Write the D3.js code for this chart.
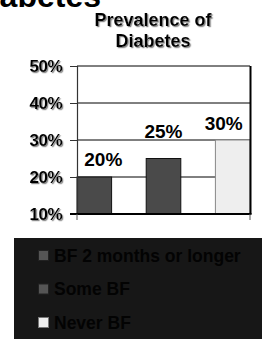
<!DOCTYPE html>
<html>
<head>
<meta charset="utf-8">
<script src="https://cdn.jsdelivr.net/npm/d3@7"></script>
<style>
  body { margin: 0; background: #fff; }
  text { font-family: "Liberation Sans", Arial, sans-serif; font-weight: bold; }
</style>
</head>
<body>
<div id="chart"></div>
<script>
// data
const seriesNames = ["BF 2 months or longer", "Some BF", "Never BF"];
const prevalence = [0.20, 0.25, 0.30];
const valueLabels = ["20%", "25%", "30%"];
const yTicks = [0.1, 0.2, 0.3, 0.4, 0.5];

// styling per series
const fills = ["#4a4a4a", "#4a4a4a", "#eeeeee"];
const strokes = ["#111", "#111", "#888"];
// labels are not quite centred over their bars in the original
const labelNudge = [[9, -11], [0, -21], [-9, -10]];

const W = 262, H = 339;
const plot = { left: 77, right: 250, top: 66, bottom: 214 };

const svg = d3.select("#chart").append("svg")
    .attr("width", W)
    .attr("height", H);

// grey drop shadow used on the title and tick labels
svg.append("defs").append("filter")
    .attr("id", "shadow")
    .attr("x", "-10%").attr("y", "-10%")
    .attr("width", "130%").attr("height", "140%")
    .append("feDropShadow")
    .attr("dx", 1.2).attr("dy", 1.2)
    .attr("stdDeviation", 0.3)
    .attr("flood-color", "#888")
    .attr("flood-opacity", 1);

// the slide title, cut off at the top left
svg.append("text")
    .attr("x", 101).attr("y", 7)
    .attr("text-anchor", "end")
    .style("font-size", "32px")
    .attr("fill", "#000")
    .text("Diabetes");

// chart title
const titleLines = ["Prevalence of", "Diabetes"];
svg.append("g")
    .attr("filter", "url(#shadow)")
    .selectAll("text")
    .data(titleLines)
    .enter().append("text")
    .attr("x", 153).attr("y", (d, i) => 26 + i * 21)
    .attr("text-anchor", "middle")
    .style("font-size", "18px")
    .attr("fill", "#000")
    .text(d => d);

// scales
const x = d3.scaleBand()
    .domain(seriesNames)
    .range([plot.left, plot.right])
    .paddingInner(0.5)
    .paddingOuter(0);
const y = d3.scaleLinear()
    .domain([0.1, 0.5])
    .range([plot.bottom, plot.top]);

// gridlines
svg.append("g")
    .selectAll("line")
    .data(yTicks.slice(1))
    .enter().append("line")
    .attr("x1", plot.left).attr("x2", plot.right)
    .attr("y1", d => y(d)).attr("y2", d => y(d))
    .attr("stroke", "#000")
    .attr("stroke-width", 1);

// bars
svg.append("g")
    .selectAll("rect")
    .data(prevalence)
    .enter().append("rect")
    .attr("x", (d, i) => x(seriesNames[i]))
    .attr("y", d => y(d))
    .attr("width", x.bandwidth())
    .attr("height", d => y(0.1) - y(d))
    .attr("fill", (d, i) => fills[i])
    .attr("stroke", (d, i) => strokes[i])
    .attr("stroke-width", 1);

// left axis
const yAxis = svg.append("g")
    .attr("transform", `translate(${plot.left},0)`)
    .call(d3.axisLeft(y).tickValues(yTicks).tickSize(7).tickFormat(""));
yAxis.select(".domain").attr("stroke", "#333").attr("stroke-width", 1.2);
yAxis.selectAll(".tick line").attr("stroke", "#333");

// tick labels
svg.append("g")
    .attr("filter", "url(#shadow)")
    .selectAll("text")
    .data(yTicks)
    .enter().append("text")
    .attr("x", 62).attr("y", d => y(d) + 6)
    .attr("text-anchor", "end")
    .style("font-size", "17px")
    .style("letter-spacing", "-0.5px")
    .attr("fill", "#000")
    .text(d => d3.format(".0%")(d));

// right border and bottom axis
svg.append("line")
    .attr("x1", plot.right + 0.5).attr("x2", plot.right + 0.5)
    .attr("y1", plot.top).attr("y2", plot.bottom)
    .attr("stroke", "#000").attr("stroke-width", 2);
svg.append("line")
    .attr("x1", plot.left - 7).attr("x2", plot.right + 1.5)
    .attr("y1", plot.bottom).attr("y2", plot.bottom)
    .attr("stroke", "#000").attr("stroke-width", 2);
svg.append("g")
    .selectAll("line")
    .data(x.range())
    .enter().append("line")
    .attr("x1", d => d).attr("x2", d => d)
    .attr("y1", plot.bottom).attr("y2", plot.bottom + 6)
    .attr("stroke", "#555");

// value labels
svg.append("g")
    .selectAll("text")
    .data(prevalence)
    .enter().append("text")
    .attr("x", (d, i) => x(seriesNames[i]) + x.bandwidth() / 2 + labelNudge[i][0])
    .attr("y", (d, i) => y(d) + labelNudge[i][1])
    .attr("text-anchor", "middle")
    .style("font-size", "19px")
    .attr("fill", "#000")
    .text((d, i) => valueLabels[i]);

// legend box
const legend = svg.append("g");
legend.append("rect")
    .attr("x", 14).attr("y", 238)
    .attr("width", W - 14).attr("height", H - 238)
    .attr("fill", "#171717");

const items = legend.selectAll("g.item")
    .data(seriesNames)
    .enter().append("g")
    .attr("class", "item")
    .attr("transform", (d, i) => `translate(38,${250 + i * 33.5})`);
items.append("rect")
    .attr("x", 0.5).attr("y", 0.5)
    .attr("width", 10).attr("height", 10)
    .attr("fill", (d, i) => i === 2 ? "#eeeeee" : "#555")
    .attr("stroke", (d, i) => i === 2 ? "#777" : "#222");
items.append("text")
    .attr("x", 16).attr("y", 11.5)
    .style("font-size", "17.5px")
    .attr("fill", "#030303")
    .text(d => d);
</script>
</body>
</html>
